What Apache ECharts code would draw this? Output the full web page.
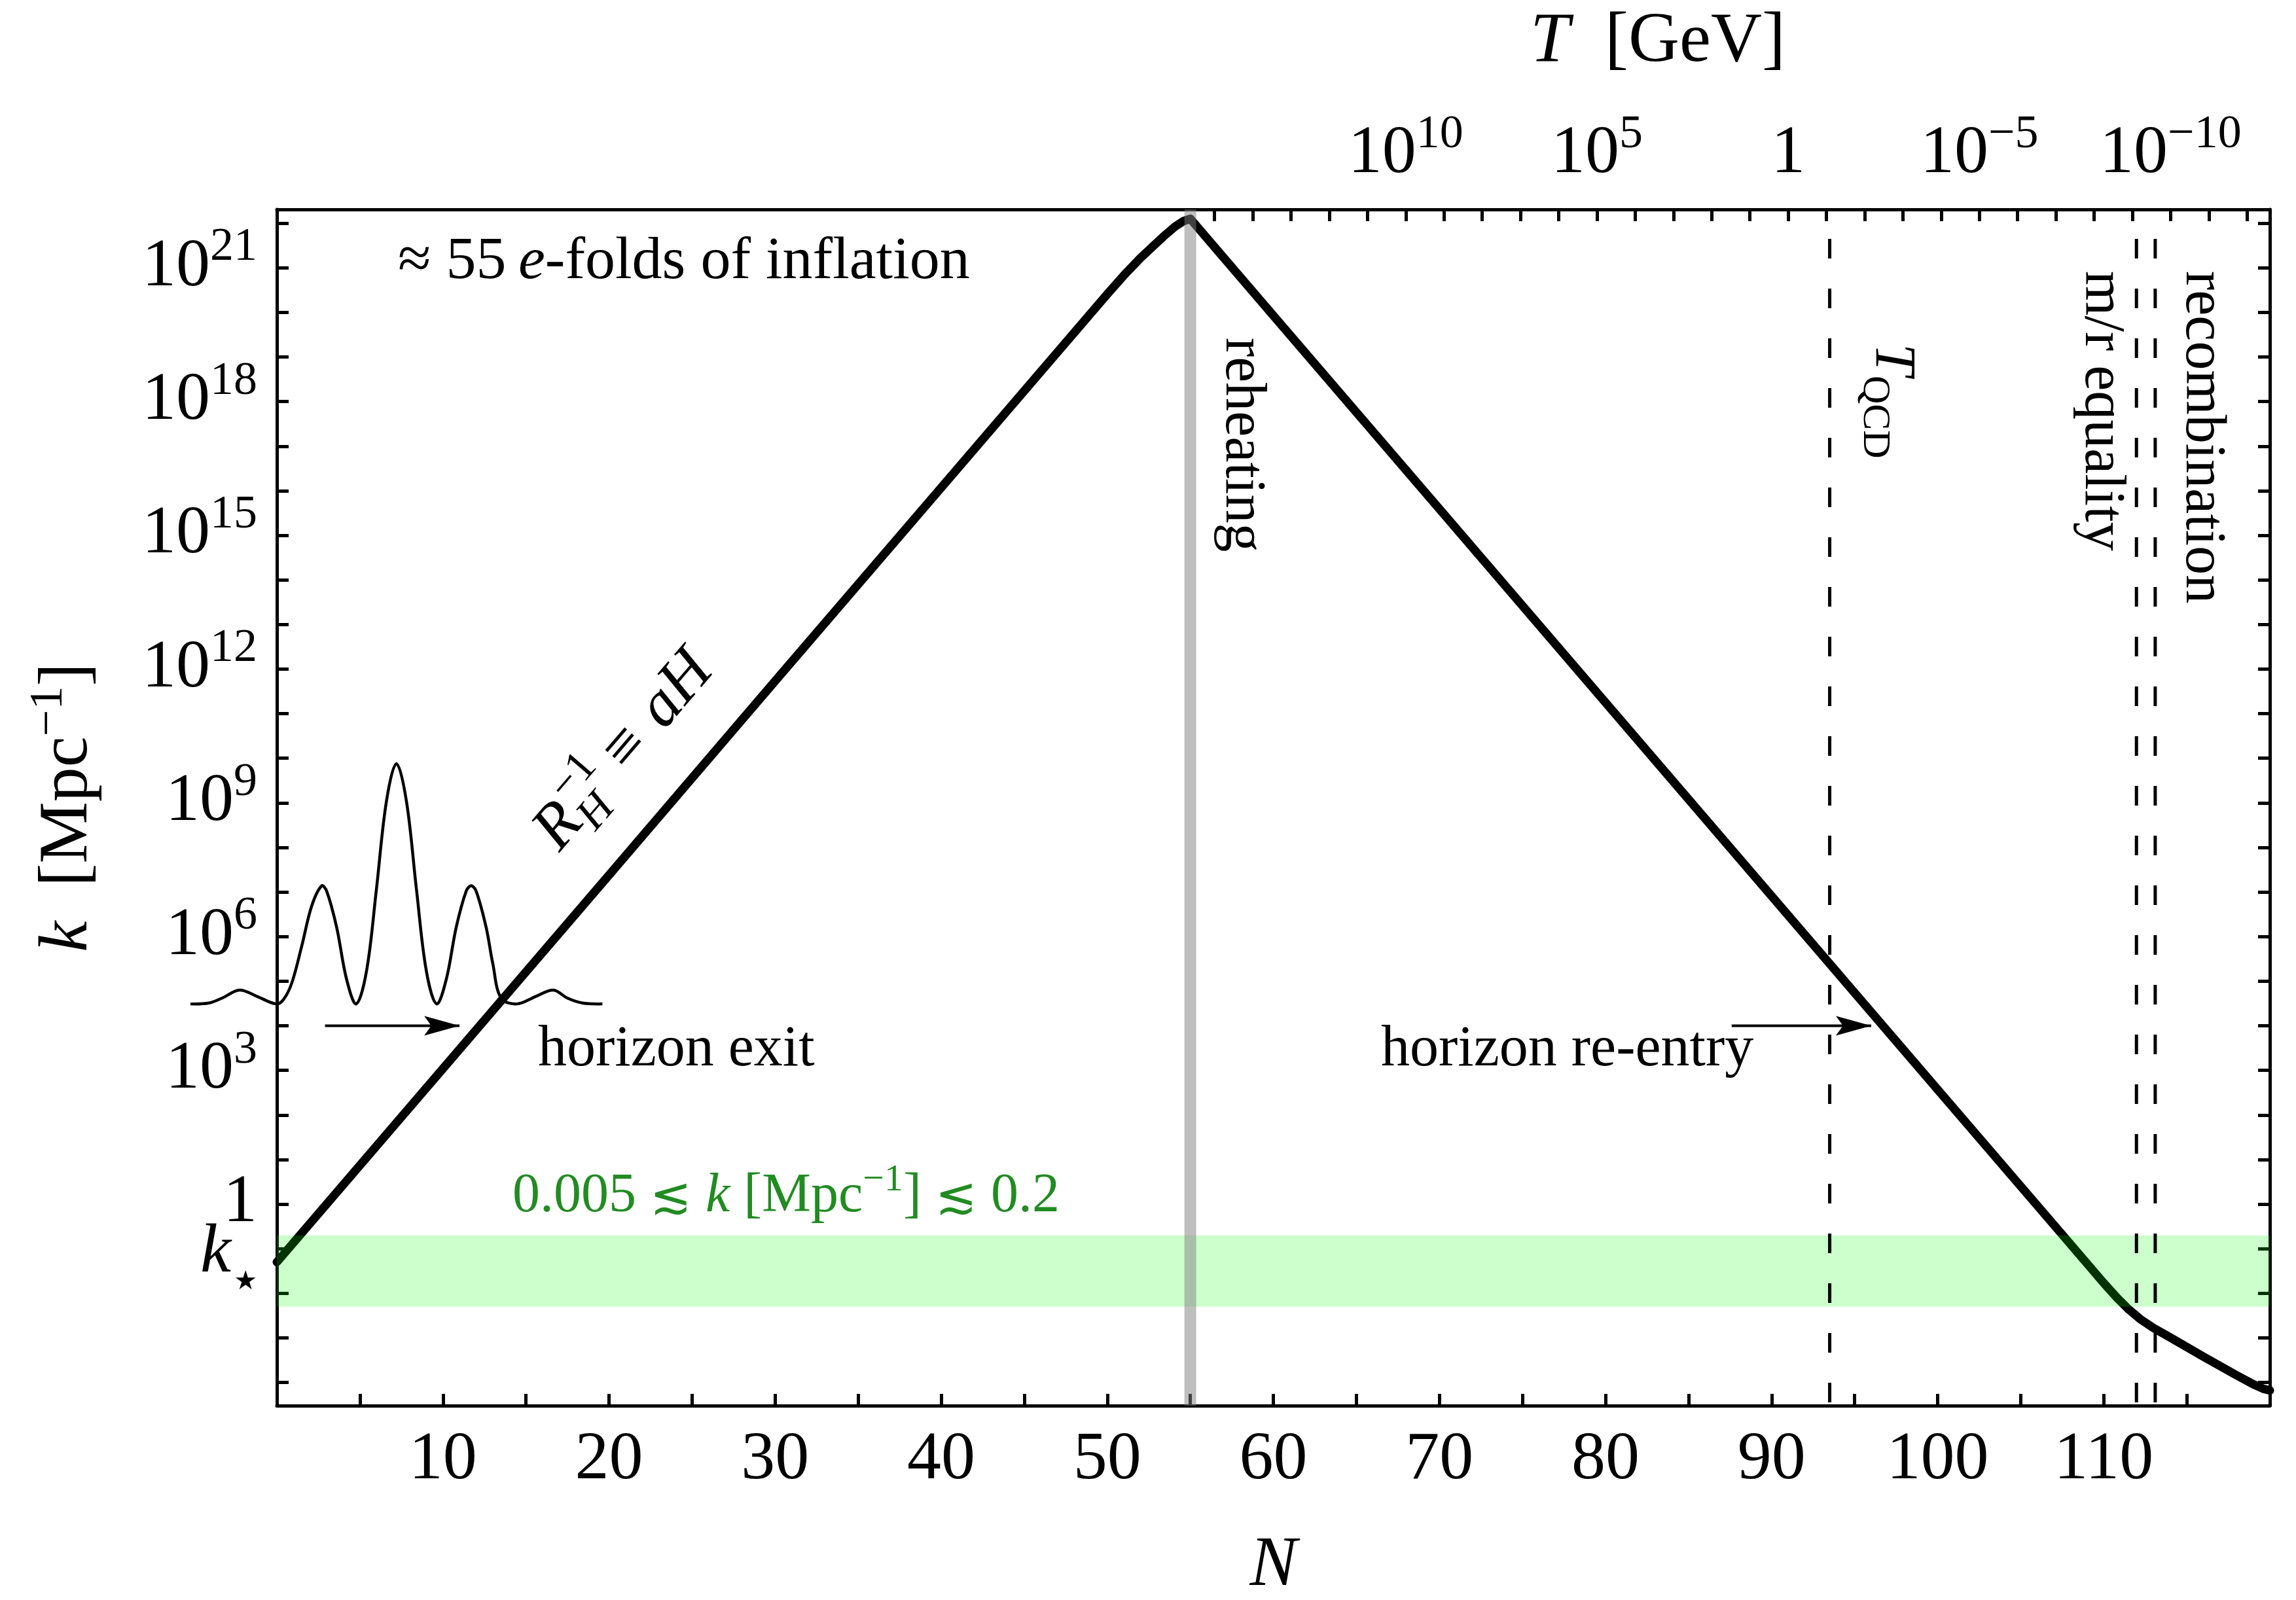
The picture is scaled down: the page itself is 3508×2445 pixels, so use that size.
<!DOCTYPE html>
<html>
<head>
<meta charset="utf-8">
<script src="https://cdn.jsdelivr.net/npm/echarts@6/dist/echarts.min.js"></script>
<style>
  html, body { margin: 0; padding: 0; background: #ffffff; }
  #chart { width: 3508px; height: 2445px; }
</style>
</head>
<body>
<div id="chart"></div>
<script>
// Comoving Hubble scale k = aH (log10 of k in Mpc^-1) against the number of e-folds N.
const curveN    = [0, 10, 20, 30, 40, 50, 51, 52, 52.8, 53.5, 54.1, 54.6, 55, 60, 70, 80, 90, 100, 108, 110, 110.8, 111.5, 112.2, 113, 114, 116, 118, 119, 119.6, 120];
const curveLogK = [-1.30, 3.04, 7.38, 11.73, 16.07, 20.41, 20.83, 21.22, 21.50, 21.74, 21.93, 22.05, 22.10, 19.93, 15.59, 11.25, 6.91, 2.57, -0.90, -1.77, -2.10, -2.36, -2.58, -2.78, -2.99, -3.42, -3.84, -4.04, -4.14, -4.18];

// Sketch of a mode (wave packet) leaving the horizon
const waveN    = [-5.2, -4.1, -3.3, -2.25, -1.2, -0.05, 0.4, 0.9, 1.5, 2.1, 2.7, 3.0, 3.6, 4.2, 4.78, 5.4, 6.0, 6.6, 7.2, 7.8, 8.4, 9.0, 9.62, 10.2, 10.8, 11.4, 11.7, 12.0, 12.6, 13.0, 13.5, 14.45, 15.6, 16.65, 17.5, 18.4, 19.6];
const waveLogK = [4.49, 4.51, 4.62, 4.80, 4.66, 4.49, 4.59, 4.96, 5.79, 6.69, 7.14, 7.02, 6.21, 5.04, 4.49, 5.23, 7.08, 9.04, 9.88, 9.04, 7.08, 5.23, 4.49, 5.04, 6.21, 7.02, 7.14, 7.02, 6.21, 5.40, 4.62, 4.49, 4.66, 4.80, 4.62, 4.51, 4.49];

const bandLogK   = [-2.301, -0.699];      // 0.005 ... 0.2 Mpc^-1
const kStarLogK  = -1.301;                // k_* = 0.05 Mpc^-1
const reheatingN = 55;
const eventN     = [93.5, 111.97, 113.1]; // T_QCD, matter/radiation equality, recombination
const exitArrowN    = [2.9, 11.0];
const reentryArrowN = [87.6, 96.0];
const arrowLogK     = 4.0;

const xTickValues  = [0, 5, 10, 15, 20, 25, 30, 35, 40, 45, 50, 55, 60, 65, 70, 75, 80, 85, 90, 95, 100, 105, 110, 115, 120];
const xLabelValues = [10, 20, 30, 40, 50, 60, 70, 80, 90, 100, 110];
const yTickValues  = [-4, -3, -2, -1, 0, 1, 2, 3, 4, 5, 6, 7, 8, 9, 10, 11, 12, 13, 14, 15, 16, 17, 18, 19, 20, 21, 22];
const yLabelValues = [0, 3, 6, 9, 12, 15, 18, 21];

// Temperature scale on top: T ~ 1/a, one decade of T per ln(10) e-folds
const tempTickExp  = [15, 14, 13, 12, 11, 10, 9, 8, 7, 6, 5, 4, 3, 2, 1, 0, -1, -2, -3, -4, -5, -6, -7, -8, -9, -10, -11, -12];
const tempLabelExp = [10, 5, 0, -5, -10];
const nAtOneGeV    = 91.0;

const X_MIN = 0, X_MAX = 120, Y_MIN = -4.52, Y_MAX = 22.31;
const FONT = '"Liberation Serif", "DejaVu Serif", serif';
const ARROW_HEAD = 'path://M0,0 L60,17 L0,34 L12,17 Z';

const nFromTempExp = e => nAtOneGeV - Math.LN10 * e;
const expText = e => (e < 0 ? '\u2212' + Math.abs(e) : String(e));

const labelRich = {
  b:  { fontFamily: FONT, fontSize: 104, lineHeight: 118, verticalAlign: 'bottom', color: '#000' },
  s:  { fontFamily: FONT, fontSize: 72, lineHeight: 58, verticalAlign: 'top', color: '#000' },
  k:  { fontFamily: FONT, fontStyle: 'italic', fontSize: 106, lineHeight: 118, verticalAlign: 'top', color: '#000' },
  ks: { fontFamily: '"DejaVu Sans", sans-serif', fontSize: 40, lineHeight: 46, verticalAlign: 'bottom', color: '#000', padding: [0, 0, 0, 4] }
};

const frameLine = { show: true, onZero: false, lineStyle: { color: '#000', width: 5 } };
const tickStyle = { color: '#000', width: 5 };

const chart = echarts.init(document.getElementById('chart'), null, { renderer: 'canvas' });

const vLine = (n, style, z) => ({
  type: 'line', data: [[n, Y_MIN], [n, Y_MAX]], symbol: 'none', silent: true, z: z,
  lineStyle: style, animation: false
});

const arrowSeries = (ns) => ({
  type: 'line', z: 6, silent: true, animation: false,
  showSymbol: true, showAllSymbol: true,
  data: [
    { value: [ns[0], arrowLogK], symbol: 'none' },
    { value: [ns[1], arrowLogK], symbol: ARROW_HEAD, symbolSize: [54, 30], symbolOffset: ['-50%', 0] }
  ],
  itemStyle: { color: '#000' },
  lineStyle: { color: '#000', width: 4 }
});

const txt = (x, y, text, extra) => ({
  type: 'text', x: x, y: y, z: 50, silent: true,
  rotation: (extra && extra.rotation) || 0,
  style: Object.assign({ text: text, fill: '#000', fontFamily: FONT, fontSize: 88, align: 'left', verticalAlign: 'middle' }, (extra && extra.style) || {})
});

const option = {
  animation: false,
  backgroundColor: '#ffffff',
  grid: { left: 423, right: 40, top: 320, bottom: 297, containLabel: false, outerBoundsMode: 'none' },
  xAxis: [
    {
      type: 'value', min: X_MIN, max: X_MAX, position: 'bottom',
      name: 'N', nameLocation: 'middle', nameGap: 192, nameMoveOverlap: false,
      nameTextStyle: { fontFamily: FONT, fontStyle: 'italic', fontSize: 108, color: '#000', lineHeight: 108 },
      axisLine: frameLine,
      axisTick: { show: true, inside: true, length: 18, lineStyle: tickStyle, customValues: xTickValues },
      axisLabel: { show: true, customValues: xLabelValues, showMinLabel: true, showMaxLabel: true, margin: 32, fontFamily: FONT, fontSize: 104, lineHeight: 104, color: '#000' },
      splitLine: { show: false }
    },
    {
      type: 'value', min: X_MIN, max: X_MAX, position: 'top',
      axisLine: frameLine,
      axisTick: { show: true, inside: true, length: 18, lineStyle: tickStyle, customValues: tempTickExp.map(nFromTempExp) },
      axisLabel: {
        show: true, customValues: tempLabelExp.map(nFromTempExp), showMinLabel: true, showMaxLabel: true, margin: 32,
        formatter: v => {
          const e = Math.round((nAtOneGeV - v) / Math.LN10);
          return e === 0 ? '{b|1}' : '{b|10}{s|' + expText(e) + '}';
        },
        rich: labelRich
      },
      splitLine: { show: false }
    }
  ],
  yAxis: [
    {
      type: 'value', min: Y_MIN, max: Y_MAX, position: 'left',
      name: '{i|k}{r|  [Mpc}{s|\u22121}{r|]}', nameLocation: 'middle', nameRotate: 90, nameGap: 266, nameMoveOverlap: false,
      nameTextStyle: {
        rich: {
          i: { fontFamily: FONT, fontStyle: 'italic', fontSize: 106, lineHeight: 118, verticalAlign: 'bottom', color: '#000' },
          r: { fontFamily: FONT, fontSize: 106, lineHeight: 118, verticalAlign: 'bottom', color: '#000' },
          s: { fontFamily: FONT, fontSize: 72, lineHeight: 58, verticalAlign: 'top', color: '#000' }
        }
      },
      axisLine: frameLine,
      axisTick: { show: true, inside: true, length: 18, lineStyle: tickStyle, customValues: yTickValues },
      axisLabel: {
        show: true, customValues: yLabelValues, showMinLabel: true, showMaxLabel: true, margin: 30, padding: [0, 0, 16, 0],
        formatter: v => (v === 0 ? '{b|1}' : '{b|10}{s|' + expText(v) + '}'),
        rich: labelRich
      },
      splitLine: { show: false }
    },
    {
      type: 'value', min: Y_MIN, max: Y_MAX, position: 'right',
      axisLine: frameLine,
      axisTick: { show: true, inside: true, length: 18, lineStyle: tickStyle, customValues: yTickValues },
      axisLabel: { show: false },
      splitLine: { show: false }
    },
    {
      // pivot scale k_* marked on the left side
      type: 'value', min: Y_MIN, max: Y_MAX, position: 'left', offset: 0,
      axisLine: { show: false, onZero: false },
      axisTick: { show: false },
      axisLabel: {
        show: true, customValues: [kStarLogK], showMinLabel: true, showMaxLabel: true, margin: 30, padding: [0, 0, 16, 0],
        formatter: () => '{k|k}{ks|\u2605}',
        rich: labelRich
      },
      splitLine: { show: false }
    }
  ],
  series: [
    {
      // wave packet; it reaches past the left frame, so it is laid out from the axis scale without clipping
      name: 'wave packet', type: 'custom', coordinateSystem: 'cartesian2d', clip: false, silent: true, z: 2,
      data: [[0, 0]],
      renderItem: (params, api) => {
        const o = api.coord([0, 0]);
        const u = api.coord([10, 10]);
        const sx = (u[0] - o[0]) / 10, sy = (u[1] - o[1]) / 10;
        const pts = waveN.map((n, i) => [o[0] + n * sx, o[1] + waveLogK[i] * sy]);
        return {
          type: 'polyline', shape: { points: pts, smooth: 0.35 },
          style: { stroke: '#000', lineWidth: 4.5, fill: null }
        };
      }
    },
    {
      name: 'aH', type: 'line', symbol: 'none', silent: true, z: 3,
      data: curveN.map((n, i) => [n, curveLogK[i]]),
      lineStyle: { color: '#000', width: 13, cap: 'round', join: 'round' },
      markArea: {
        silent: true, z: 4,
        itemStyle: { color: 'rgba(0,255,0,0.2)', borderWidth: 0 },
        data: [[{ yAxis: bandLogK[0] }, { yAxis: bandLogK[1] }]]
      }
    },
    vLine(reheatingN, { color: 'rgba(128,128,128,0.5)', width: 18 }, 5),
    ...eventN.map(n => vLine(n, { color: '#000', width: 5, type: [30, 46], dashOffset: 71 }, 6)),
    arrowSeries(exitArrowN),
    arrowSeries(reentryArrowN)
  ],
  graphic: {
    elements: [
      // temperature axis title
      txt(2533, 65, '{i|T}{r|  [GeV]}', { style: { align: 'center', rich: {
        i: { fontFamily: FONT, fontStyle: 'italic', fontSize: 108, fill: '#000' },
        r: { fontFamily: FONT, fontSize: 108, fill: '#000' } } } }),
      txt(608, 401, '{r|\u2248 55\u2009}{i|e}{r|-folds of inflation}', { style: { rich: {
        r: { fontFamily: FONT, fontSize: 92, fill: '#000' },
        i: { fontFamily: FONT, fontStyle: 'italic', fontSize: 92, fill: '#000' } } } }),
      // R_H^{-1} = aH, written along the inflationary branch
      {
        type: 'group', x: 860, y: 1308, rotation: 0.862, z: 50, silent: true,
        children: [
          { type: 'text', x: 0, y: -33, style: { text: 'R', fontFamily: FONT, fontStyle: 'italic', fontSize: 98, fill: '#000', verticalAlign: 'middle' } },
          { type: 'text', x: 66, y: -66, style: { text: '\u22121', fontFamily: FONT, fontSize: 68, fill: '#000', verticalAlign: 'middle' } },
          { type: 'text', x: 60, y: -4, style: { text: 'H', fontFamily: FONT, fontStyle: 'italic', fontSize: 68, fill: '#000', verticalAlign: 'middle' } },
          { type: 'text', x: 160, y: -33, style: { text: '\u2261', fontFamily: FONT, fontSize: 98, fill: '#000', verticalAlign: 'middle' } },
          { type: 'text', x: 246, y: -33, style: { text: 'aH', fontFamily: FONT, fontStyle: 'italic', fontSize: 98, fill: '#000', verticalAlign: 'middle' } }
        ]
      },
      txt(1897, 516, 'reheating', { rotation: -Math.PI / 2 }),
      txt(2884, 525, '{t|T}{q|QCD}', { rotation: -Math.PI / 2, style: { rich: {
        t: { fontFamily: FONT, fontStyle: 'italic', fontSize: 88, lineHeight: 100, verticalAlign: 'top', fill: '#000' },
        q: { fontFamily: FONT, fontSize: 60, lineHeight: 60, verticalAlign: 'bottom', fill: '#000' } } } }),
      txt(3210, 414, 'm/r equality', { rotation: -Math.PI / 2 }),
      txt(3364, 414, 'recombination', { rotation: -Math.PI / 2 }),
      txt(822, 1605, 'horizon exit'),
      txt(2110, 1605, 'horizon re-entry'),
      txt(783, 1823, '{n|0.005 }{o|\u2272}{n| }{i|k}{n| [Mpc}{s|\u22121}{n|] }{o|\u2272}{n| 0.2}', { style: { rich: {
        n: { fontFamily: FONT, fontSize: 84, lineHeight: 96, verticalAlign: 'bottom', fill: '#228B22' },
        i: { fontFamily: FONT, fontStyle: 'italic', fontSize: 84, lineHeight: 96, verticalAlign: 'bottom', fill: '#228B22' },
        o: { fontFamily: '"DejaVu Serif", serif', fontSize: 76, lineHeight: 96, verticalAlign: 'bottom', fill: '#228B22' },
        s: { fontFamily: FONT, fontSize: 58, lineHeight: 48, verticalAlign: 'top', fill: '#228B22' } } } })
    ]
  }
};

chart.setOption(option);
</script>
</body>
</html>
